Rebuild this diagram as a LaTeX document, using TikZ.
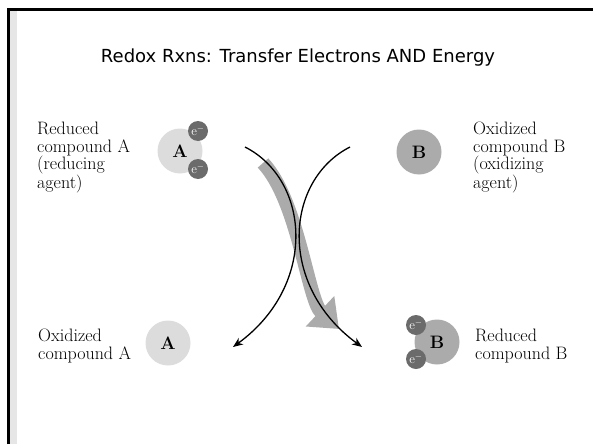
\documentclass[tikz,border=0pt]{standalone}
\usepackage{fontspec}
\newfontfamily\titlefont{DejaVu Sans}
\usetikzlibrary{arrows.meta}

\definecolor{paleA}{HTML}{DCDCDC}
\definecolor{greyB}{HTML}{ABABAB}
\definecolor{elec}{HTML}{6B6B6B}
\definecolor{strip}{HTML}{E6E6E6}

\tikzset{
  compA/.style={circle, fill=paleA, minimum size=45pt, inner sep=0pt, font=\fontsize{18}{18}\selectfont\bfseries},
  compB/.style={compA, fill=greyB},
  electron/.style={circle, fill=elec, minimum size=20pt, inner sep=0pt, text=white, font=\fontsize{13}{13}\selectfont},
  label/.style={anchor=north west, inner sep=0pt, align=left, font=\fontsize{18}{17.5}\selectfont},
  redox/.style={line width=1.3pt, -{Stealth[length=10pt,width=8pt]}},
  flow/.style={draw=greyB, line width=14pt, -{Triangle[length=26pt,width=40pt]}}
}

\begin{document}
\begin{tikzpicture}[x=1pt, y=-1pt]
  \useasboundingbox (0,0) rectangle (593,444);
  % slide frame
  \fill[strip] (9.5,11.5) rectangle (17,444);
  \draw[line width=3pt] (8,444) -- (8,10) -- (593,10);

  \node[font=\titlefont\fontsize{18}{18}\selectfont] (title) at (298,58) {Redox Rxns: Transfer Electrons AND Energy};

  % top row
  \node[compA] (aRed) at (180,151) {A};
  \node[electron] (e1) at (198,131) {e$^-$};
  \node[electron] (e2) at (198,169) {e$^-$};
  \node[label] (aRedTxt) at (37,122) {Reduced\\compound A\\(reducing\\agent)};
  \node[compB] (bOx) at (419,152) {B};
  \node[label] (bOxTxt) at (473,122) {Oxidized\\compound B\\(oxidizing\\agent)};

  % bottom row
  \node[compA] (aOx) at (168,343) {A};
  \node[label] (aOxTxt) at (38,329) {Oxidized\\compound A};
  \node[compB] (bRed) at (437,342) {B};
  \node[electron] (e3) at (416,325) {e$^-$};
  \node[electron] (e4) at (416,359) {e$^-$};
  \node[label] (bRedTxt) at (475,329) {Reduced\\compound B};

  % arrows
  \coordinate (aIn) at (245,147);
  \coordinate (aOut) at (233,347);
  \coordinate (bIn) at (350,147);
  \coordinate (bOut) at (362,347);
  \coordinate (flowIn) at (263,163);
  \coordinate (flowOut) at (339,329);
  \draw[flow] (flowIn) .. controls (298,200) and (308,300) .. (flowOut);
  \draw[redox] (aIn) .. controls (310,180) and (318,285) .. (aOut);
  \draw[redox] (bIn) .. controls (285,180) and (277,285) .. (bOut);
\end{tikzpicture}
\end{document}
